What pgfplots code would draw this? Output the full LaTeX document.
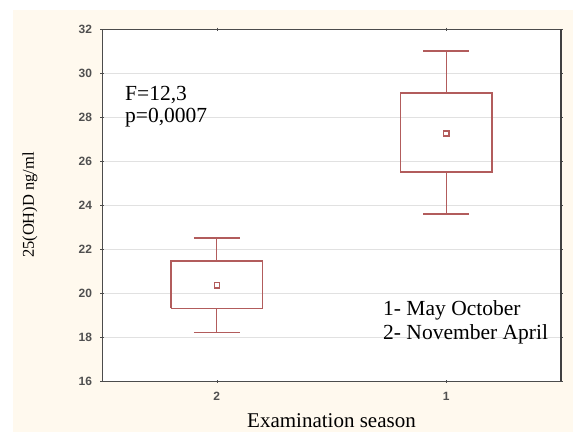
\documentclass[border=0pt]{standalone}
\usepackage{pgfplots}
\pgfplotsset{compat=1.18}
\usepackage{fontspec}
\setmainfont{Liberation Serif}
\setsansfont{Liberation Sans}
\definecolor{cream}{RGB}{255,249,238}
\definecolor{boxred}{RGB}{178,92,92}
\definecolor{gridgray}{RGB}{225,225,225}
\definecolor{ticklab}{RGB}{80,80,80}
\begin{document}
\begin{tikzpicture}
\fill[white] (0pt,0pt) rectangle (573pt,432pt);
\fill[cream] (13pt,0pt) rectangle (573pt,422pt);
\begin{axis}[
  at={(102pt,51pt)}, anchor=south west,
  scale only axis, width=459pt, height=352pt,
  axis background/.style={fill=white},
  xmin=0.5, xmax=2.5, ymin=16, ymax=32,
  xtick={1,2}, xticklabels={2,1},
  ytick={16,18,...,32},
  ymajorgrids, grid style={gridgray, line width=1pt},
  axis line style={black!70, line width=0.8pt},
  major tick length=3pt, tick align=center,
  tick style={black!70},
  /pgf/number format/assume math mode=true,
  ticklabel style={font=\sffamily\bfseries\fontsize{12}{14}\selectfont, text=ticklab},
  yticklabel style={xshift=-5pt},
  xticklabel style={yshift=-6pt},
  xlabel={Examination season},
  ylabel={25(OH)D ng/ml},
  every axis x label/.style={at={(229.5pt,-40pt)}, anchor=center, font=\fontsize{21}{24}\selectfont},
  every axis y label/.style={at={(-72pt,176pt)}, anchor=center, rotate=90, font=\fontsize{16.5}{19}\selectfont},
  unbounded coords=jump,
  clip=false,
]
% group "2": box, whiskers, caps
\addplot[boxred, line width=1.4pt, line join=miter] coordinates {(0.8,19.3) (1.2,19.3) (1.2,21.45) (0.8,21.45) (0.8,19.3)};
\addplot[boxred, line width=1.4pt] coordinates {(1,21.45) (1,22.5) (nan,nan) (0.9,22.5) (1.1,22.5) (nan,nan) (1,19.3) (1,18.2) (nan,nan) (0.9,18.2) (1.1,18.2)};
% group "1"
\addplot[boxred, line width=1.4pt, line join=miter] coordinates {(1.8,25.5) (2.2,25.5) (2.2,29.1) (1.8,29.1) (1.8,25.5)};
\addplot[boxred, line width=1.4pt] coordinates {(2,29.1) (2,31.0) (nan,nan) (1.9,31.0) (2.1,31.0) (nan,nan) (2,25.5) (2,23.6) (nan,nan) (1.9,23.6) (2.1,23.6)};
% means
\addplot[only marks, mark=square, mark size=2.6pt, draw=boxred, line width=1.3pt] coordinates {(1,20.35) (2,27.25)};
\draw[black!75, line width=2pt] (rel axis cs:1,0) -- (rel axis cs:1,1);
\end{axis}
\node[anchor=base west, inner sep=0pt, font=\fontsize{21.5}{22}\selectfont] at (125pt,331pt) {F=12,3};
\node[anchor=base west, inner sep=0pt, font=\fontsize{21.5}{22}\selectfont] at (125pt,309pt) {p=0,0007};
\node[anchor=base west, inner sep=0pt, font=\fontsize{21.5}{24}\selectfont] at (383pt,117pt) {1- May October};
\node[anchor=base west, inner sep=0pt, font=\fontsize{21.5}{24}\selectfont] at (383pt,93pt) {2- November April};
\end{tikzpicture}
\end{document}
